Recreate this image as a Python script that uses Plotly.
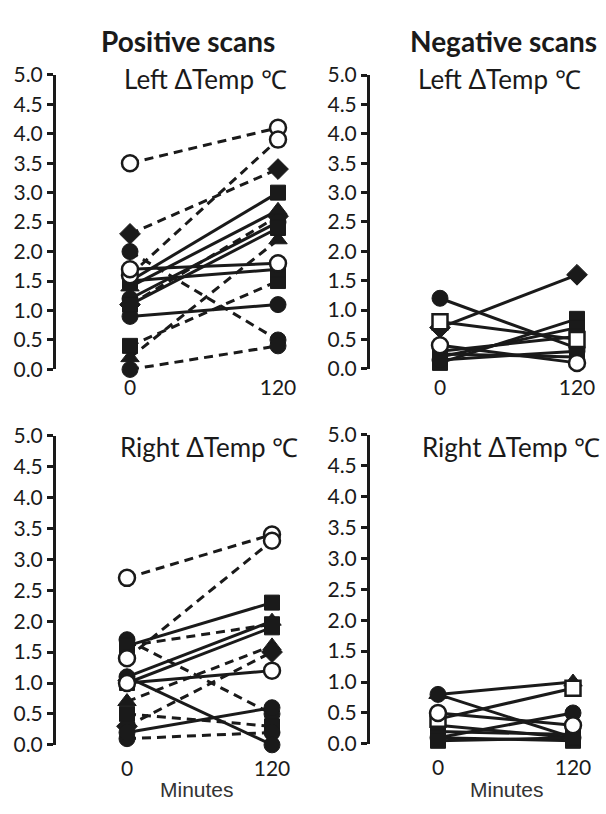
import plotly.graph_objects as go

W, H = 606, 814
TIMES = [0, 120]
TICKS = [0, 0.5, 1, 1.5, 2, 2.5, 3, 3.5, 4, 4.5, 5]

# ---- Positive scans, Left ----
pos_left_0 = [3.5, 1.6, 1.7, 2.3, 2.0, 0.2, 0.0, 1.1, 0.4, 1.5, 0.9, 1.5, 1.4, 1.2, 1.1]
pos_left_120 = [4.1, 3.9, 1.8, 3.4, 0.5, 2.2, 0.4, 2.6, 1.5, 1.7, 1.1, 3.0, 2.7, 2.5, 2.4]
pos_left_sym = ["circle", "circle", "circle", "diamond", "circle", "triangle-up", "circle", "diamond",
                "square", "square", "circle", "square", "triangle-up", "circle", "square"]
pos_left_open = [1, 1, 1, 0, 0, 0, 0, 0, 0, 0, 0, 0, 0, 0, 0]
pos_left_dash = [1, 1, 0, 1, 1, 1, 1, 1, 1, 0, 0, 0, 0, 0, 0]

# ---- Negative scans, Left ----
neg_left_0 = [1.2, 0.7, 0.8, 0.4, 0.1, 0.2, 0.3, 0.25, 0.15]
neg_left_120 = [0.35, 1.6, 0.5, 0.1, 0.85, 0.7, 0.55, 0.2, 0.3]
neg_left_sym = ["circle", "diamond", "square", "circle", "square", "square", "square", "square", "circle"]
neg_left_open = [0, 0, 1, 1, 0, 0, 0, 0, 0]
neg_left_dash = [0, 0, 0, 0, 0, 0, 0, 0, 0]

# ---- Positive scans, Right ----
pos_right_0 = [2.7, 1.4, 1.6, 1.7, 0.7, 0.3, 0.5, 0.1, 1.6, 1.1, 1.0, 1.0, 1.1, 0.2]
pos_right_120 = [3.4, 3.3, 1.95, 0.5, 1.6, 1.5, 0.3, 0.2, 2.3, 2.0, 1.9, 1.2, 0.0, 0.6]
pos_right_sym = ["circle", "circle", "square", "circle", "triangle-up", "diamond", "square", "circle",
                 "square", "triangle-up", "square", "circle", "circle", "circle"]
pos_right_open = [1, 1, 0, 0, 0, 0, 0, 0, 0, 0, 0, 1, 0, 0]
pos_right_dash = [1, 1, 1, 1, 1, 1, 1, 1, 0, 0, 0, 0, 0, 0]

# ---- Negative scans, Right ----
neg_right_0 = [0.8, 0.8, 0.4, 0.5, 0.1, 0.3, 0.2, 0.1, 0.05]
neg_right_120 = [1.0, 0.1, 0.9, 0.3, 0.5, 0.1, 0.15, 0.05, 0.1]
neg_right_sym = ["triangle-up", "circle", "square", "circle", "circle", "square", "square", "square", "square"]
neg_right_open = [0, 0, 1, 1, 0, 0, 0, 0, 0]
neg_right_dash = [0, 0, 0, 0, 0, 0, 0, 0, 0]

COL_TITLES = ["Positive scans", "Negative scans"]
SIDES = ["Left", "Left", "Right", "Right"]
X_TITLE = "Minutes"

INK = "#1a1a1a"
FONT = "Lato"
TICK_SIZE = 21
TITLE_SIZE = 26
COL_SIZE = 28


def panel_title(side):
    return side + " \u0394Temp \u2103"


# panel geometry in pixels: axis line x, x of t=0, x of t=120, y of 0, y of 5
panels = [
    dict(data=(pos_left_0, pos_left_120, pos_left_sym, pos_left_open, pos_left_dash),
         ax=56, x0=130, x1=278, y0=366.7, y5=62.7, tx=205, ty=67, xt=False),
    dict(data=(neg_left_0, neg_left_120, neg_left_sym, neg_left_open, neg_left_dash),
         ax=370, x0=440, x1=577, y0=366, y5=63, tx=499, ty=67, xt=False),
    dict(data=(pos_right_0, pos_right_120, pos_right_sym, pos_right_open, pos_right_dash),
         ax=56, x0=127, x1=272, y0=754, y5=435, tx=209, ty=447, xt=True),
    dict(data=(neg_right_0, neg_right_120, neg_right_sym, neg_right_open, neg_right_dash),
         ax=370, x0=438, x1=573, y0=753, y5=434, tx=511, ty=447, xt=True),
]

SIZES = {"circle": 16, "square": 15, "diamond": 16, "triangle-up": 16}

fig = go.Figure()
annotations = []
layout = {}
for i, p in enumerate(panels, start=1):
    xa = "x" if i == 1 else f"x{i}"
    ya = "y" if i == 1 else f"y{i}"
    s = (p["x1"] - p["x0"]) / 120.0
    r0 = -(p["x0"] - p["ax"]) / s
    xend = min(p["x0"] + 140 * s, W - 2)
    r1 = (xend - p["x0"]) / s
    layout["xaxis" if i == 1 else f"xaxis{i}"] = dict(
        domain=[p["ax"] / W, xend / W], range=[r0, r1], anchor=ya,
        showline=False, showgrid=False, zeroline=False, ticks="",
        tickvals=TIMES, ticktext=[str(t) for t in TIMES],
        tickfont=dict(family=FONT, size=TICK_SIZE, color=INK),
        ticklabelstandoff=9 if p["xt"] else 4,
    )
    layout["yaxis" if i == 1 else f"yaxis{i}"] = dict(
        domain=[1 - p["y0"] / H, 1 - p["y5"] / H], range=[0, 5], anchor=xa,
        showline=True, linewidth=3, linecolor=INK, showgrid=False, zeroline=False,
        ticks="outside", ticklen=6, tickwidth=2.5, tickcolor=INK,
        tickvals=TICKS, tickformat=".1f",
        tickfont=dict(family=FONT, size=TICK_SIZE, color=INK), ticklabelstandoff=0,
    )
    v0, v1, sym, opn, dsh = p["data"]
    for a, b, d in zip(v0, v1, dsh):
        fig.add_trace(go.Scatter(
            x=TIMES, y=[a, b], mode="lines", xaxis=xa, yaxis=ya,
            line=dict(color=INK, width=3, dash="9px,6px" if d else "solid"),
            showlegend=False, hoverinfo="skip"))
    order = sorted(range(len(v0)), key=lambda k: opn[k])
    for k in order:
        fig.add_trace(go.Scatter(
            x=TIMES, y=[v0[k], v1[k]], mode="markers", xaxis=xa, yaxis=ya, cliponaxis=False,
            marker=dict(symbol=sym[k], size=SIZES[sym[k]],
                        color="white" if opn[k] else INK,
                        line=dict(color=INK, width=2.5 if opn[k] else 1)),
            showlegend=False))
    annotations.append(dict(text=panel_title(SIDES[i - 1]), x=p["tx"] / W, y=1 - p["ty"] / H,
                            xref="paper", yref="paper",
                            showarrow=False, xanchor="center", yanchor="middle",
                            font=dict(family=FONT, size=TITLE_SIZE, color=INK)))
    if p["xt"]:
        annotations.append(dict(text=X_TITLE, x=(197 if i == 3 else 507) / W, y=1 - 800 / H,
                                xref="paper", yref="paper", showarrow=False,
                                xanchor="center", yanchor="middle",
                                font=dict(family="Liberation Sans", size=21, color="#333")))

for txt, cx in zip(COL_TITLES, [188, 503]):
    annotations.append(dict(text="<b>" + txt + "</b>", x=cx / W, y=1 - 28 / H, xref="paper", yref="paper",
                            showarrow=False, xanchor="center", yanchor="middle",
                            font=dict(family=FONT, size=COL_SIZE, color=INK)))

fig.update_layout(
    width=W, height=H, margin=dict(l=0, r=0, t=0, b=0),
    paper_bgcolor="white", plot_bgcolor="white",
    annotations=annotations, showlegend=False, **layout)

post = ("document.documentElement.style.margin='0';document.body.style.margin='0';"
        "document.body.style.padding='0';document.body.style.overflow='hidden';"
        "var d=document.getElementById('{plot_id}');d.style.position='fixed';"
        "d.style.top='0';d.style.left='0';")
fig.write_html("out.html", config={"displayModeBar": False}, post_script=post)
